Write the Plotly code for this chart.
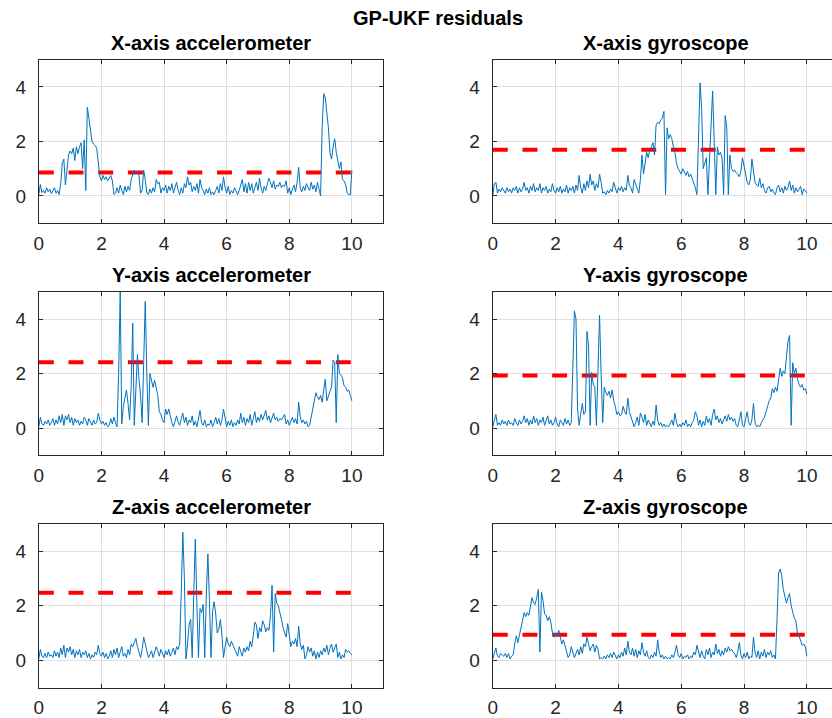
import numpy as np
import plotly.graph_objects as go

# Residual magnitudes sampled every 0.05 s over 0..10 s
x_acc = [
    0.05, 0.42, 0.12, 0.2, 0.1, 0.3, 0.15, 0.25, 0.08, 0.18,
    0.3, 0.1, 0.2, 0.05, 0.45, 1.2, 1.35, 0.4, 1.1, 1.5,
    1.65, 1.55, 1.75, 1.3, 1.8, 1.55, 1.8, 1.95, 1.0, 2.05,
    0.2, 3.25, 2.85, 2.3, 2.0, 1.9, 1.85, 1.75, 1.2, 0.7,
    0.55, 0.75, 0.6, 0.7, 0.55, 0.65, 0.75, 0.55, 0.05, 0.1,
    0.3, 0.1, 0.4, 0.2, 0.05, 0.35, 0.15, 0.35, 0.2, 0.6,
    0.75, 0.95, 0.8, 0.9, 0.75, 0.1, 0.2, 0.95, 0.6, 0.1,
    0.05, 0.25, 0.1, 0.3, 0.15, 0.6, 0.45, 0.5, 0.1, 0.3,
    0.2, 0.4, 0.1, 0.35, 0.2, 0.45, 0.1, 0.3, 0.5, 0.2,
    0.05, 0.3, 0.1, 0.45, 0.3, 0.7, 0.4, 0.5, 0.15, 0.35,
    0.2, 0.45, 0.1, 0.6, 0.3, 0.2, 0.05, 0.25, 0.1, 0.3,
    0.05, 0.15, 0.05, 0.2, 0.35, 0.1, 0.45, 0.2, 0.7, 0.3,
    0.1, 0.35, 0.05, 0.2, 0.1, 0.3, 0.15, 0.05, 0.2, 0.4,
    0.6, 0.15, 0.45, 0.1, 0.5, 0.2, 0.45, 0.1, 0.35, 0.5,
    0.2, 0.65, 0.3, 0.1, 0.35, 0.2, 0.45, 0.65, 0.5, 0.3,
    0.55, 0.25, 0.4, 0.35, 0.5, 0.3, 0.4, 0.35, 0.55, 0.1,
    0.3, 0.05, 0.25, 0.4, 0.15, 0.5, 1.05, 0.3, 0.15, 0.35,
    0.2, 0.45, 0.3, 0.2, 0.5, 0.25, 0.4, 0.15, 0.5, 0.2,
    0.0, 2.5, 3.75, 3.6, 3.0, 2.5, 1.6, 1.35, 1.8, 2.1,
    1.6, 1.25, 1.0, 1.25, 0.6, 0.55, 0.4, 0.1, 0.05, 0.05,
    0.95,
]

x_gyro = [
    0.0, 0.45, 0.5, 0.1, 0.25, 0.15, 0.3, 0.2, 0.1, 0.3,
    0.15, 0.25, 0.1, 0.3, 0.2, 0.35, 0.1, 0.3, 0.15, 0.25,
    0.5, 0.2, 0.3, 0.1, 0.35, 0.2, 0.45, 0.15, 0.3, 0.2,
    0.45, 0.1, 0.3, 0.2, 0.35, 0.1, 0.25, 0.15, 0.45, 0.2,
    0.1, 0.3, 0.15, 0.35, 0.1, 0.25, 0.15, 0.4, 0.1, 0.3,
    0.2, 0.35, 0.1, 0.4, 0.2, 0.75, 0.3, 0.1, 0.45, 0.2,
    0.55, 0.3, 0.8, 0.4, 0.55, 0.2, 0.45, 0.3, 0.8, 0.5,
    0.1, 0.15, 0.05, 0.2, 0.1, 0.25, 0.15, 0.5, 0.3, 0.1,
    0.3, 0.2, 0.35, 0.15, 0.3, 0.2, 0.75, 0.4, 0.3, 0.1,
    0.6, 0.45, 0.3, 0.1, 0.6, 1.5, 0.8, 1.3, 1.6, 1.4,
    1.7, 1.8, 1.95, 1.5, 2.6, 2.7, 2.65, 2.8, 2.85, 3.1,
    0.05, 2.5, 2.1, 2.25, 2.1, 1.8, 1.6, 1.2, 1.0, 0.9,
    0.8, 1.0, 0.85, 0.75, 0.9, 0.7, 0.8, 0.65, 0.5, 0.3,
    0.05, 2.0, 4.15, 3.2, 1.0, 1.2, 1.4, 0.05, 1.2, 2.5,
    3.85, 2.0, 0.05, 1.8, 1.5, 1.6, 1.4, 0.05, 2.95, 2.5,
    0.05, 1.5, 1.0, 0.9, 0.95, 0.85, 0.8, 0.7, 0.9, 1.4,
    1.1, 0.8, 0.5, 0.4, 0.6, 1.35, 0.9, 0.5, 0.4, 0.35,
    0.65, 0.3, 0.45, 0.2, 0.1, 0.3, 0.35, 0.15, 0.25, 0.1,
    0.05, 0.3, 0.4, 0.15, 0.3, 0.1, 0.35, 0.2, 0.3, 0.55,
    0.2, 0.4, 0.1, 0.3, 0.15, 0.25, 0.35, 0.05, 0.25, 0.2,
    0.1,
]

y_acc = [
    0.05, 0.4, 0.15, 0.1, 0.25, 0.15, 0.3, 0.1, 0.2, 0.35,
    0.1, 0.3, 0.15, 0.45, 0.2, 0.5, 0.1, 0.45, 0.3, 0.5,
    0.2, 0.4, 0.1, 0.35, 0.2, 0.3, 0.1, 0.25, 0.15, 0.4,
    0.3, 0.1, 0.35, 0.2, 0.1, 0.3, 0.15, 0.2, 0.55, 0.3,
    0.15, 0.25, 0.1, 0.2, 0.05, 0.1, 0.35, 0.15, 0.4, 0.2,
    0.05, 2.0, 5.0, 0.15, 0.8, 1.1, 1.4, 0.9, 0.3, 1.5,
    3.85, 0.1, 1.3, 2.7, 1.8, 1.2, 0.2, 3.0, 4.65, 2.0,
    0.1, 2.0, 1.7, 1.5, 1.75, 1.5, 1.2, 0.6, 0.5, 0.3,
    0.2, 0.7, 0.5, 0.7, 0.4, 0.2, 0.05, 0.3, 0.45, 0.2,
    0.1, 0.35, 0.55, 0.2, 0.4, 0.1, 0.3, 0.2, 0.45, 0.1,
    0.25, 0.05, 0.3, 0.65, 0.2, 0.1, 0.3, 0.05, 0.15, 0.1,
    0.3, 0.05, 0.2, 0.4, 0.15, 0.35, 0.1, 0.3, 0.7, 0.3,
    0.05, 0.25, 0.1, 0.3, 0.05, 0.2, 0.1, 0.3, 0.15, 0.55,
    0.2, 0.4, 0.1, 0.35, 0.2, 0.5, 0.1, 0.35, 0.6, 0.2,
    0.4, 0.25, 0.5, 0.3, 0.45, 0.65, 0.3, 0.45, 0.2, 0.35,
    0.55, 0.3, 0.4, 0.25, 0.35, 0.3, 0.4, 0.5, 0.15, 0.3,
    0.1, 0.25, 0.4, 0.2, 0.35, 0.15, 0.95, 0.4, 0.2, 0.3,
    0.15, 0.25, 0.05, 0.1, 0.4, 0.6, 1.0, 1.3, 1.15, 1.05,
    1.2, 0.95, 1.4, 1.8, 1.0, 1.2, 1.35, 1.5, 2.5, 2.4,
    0.2, 2.7, 2.0, 1.95, 1.85, 1.55, 1.5, 1.35, 1.4, 1.2,
    1.0,
]

y_gyro = [
    0.05, 0.3, 0.5, 0.1, 0.2, 0.1, 0.3, 0.15, 0.25, 0.1,
    0.3, 0.15, 0.2, 0.1, 0.35, 0.2, 0.1, 0.3, 0.15, 0.25,
    0.45, 0.2, 0.35, 0.1, 0.3, 0.15, 0.45, 0.2, 0.35, 0.1,
    0.3, 0.2, 0.4, 0.1, 0.25, 0.45, 0.15, 0.3, 0.1, 0.2,
    0.4, 0.15, 0.05, 0.3, 0.2, 0.1, 0.35, 0.15, 0.3, 0.1,
    0.2, 2.5, 4.3, 4.0, 0.7, 0.1, 0.6, 0.9, 0.5, 0.6,
    3.55, 3.0, 0.1, 2.05, 1.6, 1.5, 0.1, 2.2, 4.15, 2.0,
    0.2, 1.5, 1.3, 1.2, 1.35, 1.1, 1.4, 1.0, 0.8, 0.5,
    0.6, 0.45, 0.5, 0.8, 0.6, 0.5, 1.1, 0.6, 0.4, 0.2,
    0.05, 0.2, 0.4, 0.1, 0.55, 0.4, 0.2, 0.5, 0.1, 0.3,
    0.15, 0.05, 0.25, 0.1, 0.85, 0.3, 0.1, 0.2, 0.05, 0.15,
    0.05, 0.1, 0.05, 0.15, 0.3, 0.1, 0.55, 0.2, 0.05, 0.15,
    0.05, 0.2, 0.1, 0.3, 0.05, 0.15, 0.05, 0.2, 0.3, 0.6,
    0.45, 0.1, 0.3, 0.05, 0.25, 0.1, 0.45, 0.2, 0.35, 0.1,
    0.5, 0.7, 0.3, 0.45, 0.2, 0.35, 0.15, 0.3, 0.45, 0.25,
    0.5, 0.3, 0.4, 0.25, 0.35, 0.1, 0.05, 0.3, 0.6, 0.1,
    0.05, 0.35, 0.6, 0.2, 0.1, 0.3, 0.9, 0.2, 0.05, 0.1,
    0.05, 0.2, 0.3, 0.4, 0.6, 0.8, 1.0, 1.1, 1.45, 1.3,
    1.5, 1.35, 1.8, 2.2, 1.9, 2.1, 2.0, 2.6, 3.2, 3.4,
    0.1, 2.4, 2.0, 2.2, 1.8, 1.6, 1.5, 1.6, 1.4, 1.45,
    1.25,
]

z_acc = [
    0.05, 0.4, 0.15, 0.1, 0.25, 0.1, 0.3, 0.15, 0.2, 0.1,
    0.35, 0.15, 0.3, 0.1, 0.45, 0.2, 0.55, 0.1, 0.45, 0.3,
    0.5, 0.2, 0.4, 0.1, 0.35, 0.2, 0.4, 0.1, 0.3, 0.2,
    0.35, 0.1, 0.25, 0.05, 0.2, 0.1, 0.3, 0.2, 0.55, 0.25,
    0.15, 0.3, 0.1, 0.25, 0.05, 0.15, 0.35, 0.1, 0.4, 0.2,
    0.45, 0.1, 0.3, 0.5, 0.15, 0.25, 0.1, 0.4, 0.2, 0.6,
    0.5, 0.7, 0.8, 0.5, 0.3, 0.1, 0.4, 0.85, 0.6, 0.3,
    0.1, 0.2, 0.35, 0.1, 0.3, 0.5, 0.35, 0.15, 0.4, 0.2,
    0.1, 0.35, 0.2, 0.4, 0.15, 0.3, 0.45, 0.2, 0.5, 0.4,
    0.6, 2.5, 4.7, 3.0, 0.05, 0.6, 1.3, 1.5, 0.1, 2.5,
    4.45, 2.0, 0.1, 1.9, 1.75, 2.05, 0.1, 2.4, 3.9, 2.2,
    0.1, 1.8, 2.15, 1.7, 1.0, 1.15, 1.5, 0.9, 0.1, 0.5,
    0.85, 0.6, 0.5, 0.7, 0.55, 0.4, 0.3, 0.15, 0.5, 0.35,
    0.15, 0.45, 0.3, 0.5, 0.35, 0.7, 0.5, 0.9, 1.4, 1.3,
    0.8, 1.2, 1.05, 1.45, 1.3, 1.05, 1.2, 1.1, 1.65, 2.75,
    0.3, 2.45, 2.1, 2.0, 1.8, 1.5, 1.2, 1.0, 0.85, 1.35,
    1.0, 0.5, 0.7, 0.6, 0.8, 0.5, 1.25, 0.6, 0.4, 0.55,
    0.05, 0.2, 0.5, 0.3, 0.45, 0.15, 0.35, 0.05, 0.3, 0.1,
    0.35, 0.2, 0.45, 0.3, 0.55, 0.2, 0.45, 0.6, 0.3, 0.5,
    0.6, 0.1, 0.3, 0.05, 0.2, 0.1, 0.4, 0.3, 0.35, 0.25,
    0.2,
]

z_gyro = [
    0.05, 0.3, 0.45, 0.15, 0.1, 0.25, 0.2, 0.15, 0.25, 0.1,
    0.25, 0.05, 0.15, 0.2, 0.6, 0.9, 0.65, 0.95, 1.2, 1.5,
    1.75, 1.6, 1.75, 1.65, 2.0, 2.3, 2.1, 2.05, 2.3, 2.6,
    0.3, 2.5, 2.2, 1.7, 1.65, 1.45, 1.6, 1.4, 1.0, 0.85,
    1.0, 0.9, 1.1, 0.85, 0.6, 0.75, 0.5, 0.3, 0.1, 0.2,
    0.5, 0.3, 0.1, 0.25, 0.4, 0.2, 0.5, 0.25, 0.6, 0.5,
    0.85, 0.6, 0.35, 0.5, 0.6, 0.3, 0.55, 0.4, 0.05, 0.1,
    0.05, 0.15, 0.05, 0.2, 0.1, 0.25, 0.1, 0.3, 0.15, 0.05,
    0.2, 0.1, 0.3, 0.15, 0.45, 0.2, 0.7, 0.3, 0.2, 0.45,
    0.15, 0.4, 0.1, 0.35, 0.2, 0.65, 0.3, 0.15, 0.35, 0.1,
    0.05, 0.2, 0.1, 0.3, 0.15, 0.75, 0.3, 0.1, 0.2, 0.05,
    0.15, 0.05, 0.1, 0.05, 0.2, 0.1, 0.3, 0.55, 0.2, 0.1,
    0.25, 0.05, 0.15, 0.1, 0.2, 0.05, 0.15, 0.1, 0.3, 0.2,
    0.55, 0.3, 0.1, 0.35, 0.15, 0.05, 0.4, 0.2, 0.45, 0.1,
    0.3, 0.2, 0.6, 0.25, 0.4, 0.15, 0.35, 0.2, 0.45, 0.3,
    0.5, 0.35, 0.4, 0.3, 0.25, 0.1, 0.3, 0.65, 0.2, 0.05,
    0.25, 0.1, 0.3, 0.05, 0.15, 0.1, 0.85, 0.3, 0.1, 0.35,
    0.05, 0.3, 0.15, 0.4, 0.1, 0.3, 0.2, 0.35, 0.1, 0.2,
    0.05, 1.5, 3.2, 3.35, 3.1, 2.6, 2.3, 2.1, 2.3, 2.45,
    2.0, 1.8, 1.55, 1.45, 1.0, 0.9, 0.75, 0.55, 0.6, 0.5,
    0.15,
]

# Detection thresholds for each sensor channel
thresholds = [0.86, 1.69, 2.42, 1.93, 2.48, 0.94]

titles = ["X-axis accelerometer", "X-axis gyroscope",
          "Y-axis accelerometer", "Y-axis gyroscope",
          "Z-axis accelerometer", "Z-axis gyroscope"]
series = [x_acc, x_gyro, y_acc, y_gyro, z_acc, z_gyro]
x_ticks = [0, 2, 4, 6, 8, 10]
y_ticks = [0, 2, 4]
t_end = 10.0

W, H = 832, 718
# panel boxes in pixels: (left, right) per column, (top, bottom) per row
col_px = [(34.0, 380.5), (490.7, 832.0)]
col_range = [[0, 11], [0, 10.8]]
row_px = [(60.0, 224.4), (293.5, 457.9), (527.0, 691.4)]

FONT = "Liberation Sans, Arial, Helvetica, sans-serif"
AX_COLOR = "#262626"
GRID = "#dedede"
BLUE = "#0072BD"
RED = "#FF0000"

fig = go.Figure()
annotations = []

for i, (name, vals, thr) in enumerate(zip(titles, series, thresholds)):
    r, c = divmod(i, 2)
    n = i + 1
    xa = "x" if n == 1 else f"x{n}"
    ya = "y" if n == 1 else f"y{n}"
    t = np.linspace(0, t_end, len(vals))

    fig.add_trace(go.Scatter(
        x=[0, t_end], y=[thr, thr], mode="lines",
        line=dict(color=RED, width=4, dash="15px,14.7px"),
        xaxis=xa, yaxis=ya, hoverinfo="skip", showlegend=False))
    fig.add_trace(go.Scatter(
        x=t, y=vals, mode="lines",
        line=dict(color=BLUE, width=1),
        xaxis=xa, yaxis=ya, showlegend=False))

    left, right = col_px[c]
    top, bottom = row_px[r]
    xdom = [left / W, right / W]
    ydom = [1 - bottom / H, 1 - top / H]

    common = dict(
        showgrid=True, gridcolor=GRID, gridwidth=1, zeroline=False,
        showline=True, linecolor=AX_COLOR, linewidth=1,
        ticks="inside", ticklen=4, tickcolor=AX_COLOR, tickwidth=1,
        tickfont=dict(family=FONT, size=19, color=AX_COLOR),
    )
    fig.layout[f"xaxis{'' if n == 1 else n}"] = dict(
        common, domain=xdom, range=col_range[c], tickvals=x_ticks,
        anchor=ya, mirror="ticks", ticklabelstandoff=3)
    fig.layout[f"yaxis{'' if n == 1 else n}"] = dict(
        common, domain=ydom, range=[-1, 5], tickvals=y_ticks,
        anchor=xa, mirror="ticks" if c == 0 else False,
        ticklabelstandoff=8)

    # subplot title centred on the full axes box (right column box runs past the page edge)
    full_right = left + (right - left) * 11 / col_range[c][1]
    annotations.append(dict(
        text=f"<b>{name}</b>", x=(left + full_right) / 2 / W,
        y=1 - (top - 4) / H, xref="paper", yref="paper",
        xanchor="center", yanchor="bottom", showarrow=False,
        font=dict(family=FONT, size=20, color="#000000")))

annotations.append(dict(
    text="<b>GP-UKF residuals</b>", x=435.5 / W, y=1 - 31 / H,
    xref="paper", yref="paper", xanchor="center", yanchor="bottom",
    showarrow=False, font=dict(family=FONT, size=20, color="#000000")))

fig.update_layout(
    width=W, height=H, autosize=False,
    margin=dict(l=0, r=0, t=0, b=0),
    paper_bgcolor="white", plot_bgcolor="white",
    annotations=annotations,
)

fig.write_html("out.html")
